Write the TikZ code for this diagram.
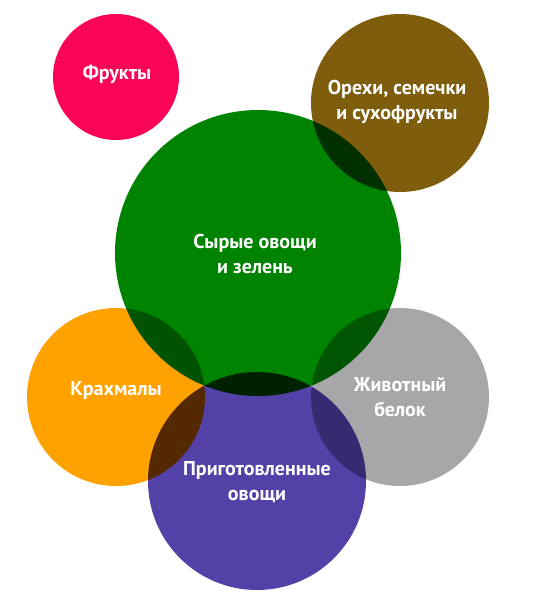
\documentclass[tikz,border=0pt]{standalone}
\usepackage{fontspec}
\setmainfont{PT Sans}
\definecolor{cpink}{HTML}{F90558}
\definecolor{cbrown}{HTML}{7E5D0C}
\definecolor{cgreen}{HTML}{008300}
\definecolor{corange}{HTML}{FFA200}
\definecolor{cgray}{HTML}{A7A7AA}
\definecolor{cpurple}{HTML}{5441A8}
\begin{document}
\begin{tikzpicture}[x=1pt,y=-1pt,
  bubble/.style={circle,inner sep=0pt,minimum size=#1},
  lbl/.style={text=white,font=\bfseries\fontsize{20}{25.5}\selectfont,align=center}]
\useasboundingbox (0,0) rectangle (541,607);
\fill[white] (0,0) rectangle (541,607);
\begin{scope}[blend group=multiply]
\node[bubble=126pt,fill=cpink] (fr) at (116,77) {};
\node[bubble=178pt,fill=cbrown] (nu) at (400,103) {};
\node[bubble=286pt,fill=cgreen] (gr) at (258,253) {};
\node[bubble=178pt,fill=corange] (st) at (116,397) {};
\node[bubble=178pt,fill=cgray] (an) at (400,397) {};
\node[bubble=218pt,fill=cpurple] (co) at (257,481) {};
\end{scope}
\node[lbl] (tfr) at (117,74) {Фрукты};
\node[lbl] (tnu) at (397,102) {Орехи, семечки\\и сухофрукты};
\node[lbl] (tgr) at (255,254) {Сырые овощи\\и зелень};
\node[lbl] (tst) at (116,390) {Крахмалы};
\node[lbl] (tan) at (400,397) {Животный\\белок};
\node[lbl] (tco) at (257,482) {Приготовленные\\овощи};
\end{tikzpicture}
\end{document}
